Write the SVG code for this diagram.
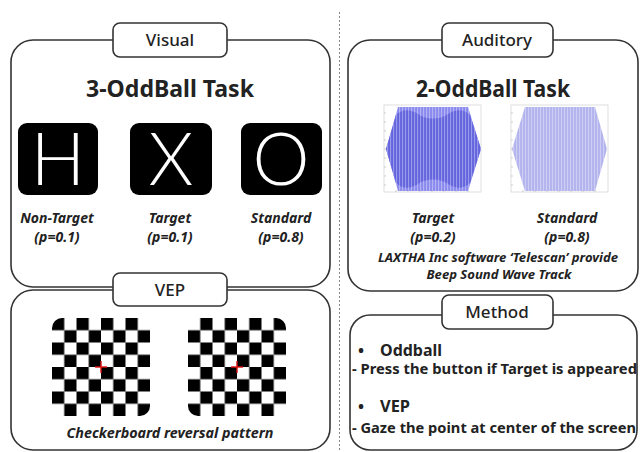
<svg xmlns="http://www.w3.org/2000/svg" width="640" height="452" viewBox="0 0 640 452">
<style>
.box{fill:#fff;stroke:#333;stroke-width:1.6}
.lbl{fill:#fff;stroke:#333;stroke-width:1.6}
.lt{font-family:"Noto Sans","Open Sans","Liberation Sans",sans-serif;font-size:17px;font-weight:500;fill:#222;text-anchor:middle}
.ttl{font-family:"Noto Sans","Open Sans","Liberation Sans",sans-serif;font-size:24px;font-weight:bold;fill:#222;text-anchor:middle}
.big{font-family:Lato,"Noto Sans","Liberation Sans",sans-serif;font-size:72px;font-weight:300;fill:#fff;text-anchor:middle}
.it{font-family:"Noto Sans","Liberation Sans",sans-serif;font-size:14px;font-weight:bold;font-style:italic;fill:#222;text-anchor:middle}
.sm{font-family:"Noto Sans","Liberation Sans",sans-serif;font-size:13px;font-weight:bold;font-style:italic;fill:#222;text-anchor:middle}
.mt{font-family:"Noto Sans","Open Sans","Liberation Sans",sans-serif;font-size:14px;font-weight:bold;fill:#222}
.mh{font-family:"Noto Sans","Open Sans","Liberation Sans",sans-serif;font-size:16px;font-weight:bold;fill:#222}
.frame{fill:#fff;stroke:#d6d6d6;stroke-width:0.8}
.tick{stroke:#bbb;stroke-width:0.7}
.cross{stroke:#e01010;stroke-width:1.4}
</style>
<defs>
<pattern id="chk" width="24.5" height="24.5" patternUnits="userSpaceOnUse">
<rect x="0" y="0" width="12.25" height="12.25" fill="#000"/>
<rect x="12.25" y="12.25" width="12.25" height="12.25" fill="#000"/>
</pattern>
<pattern id="chkInv" width="24.5" height="24.5" patternUnits="userSpaceOnUse">
<rect x="12.25" y="0" width="12.25" height="12.25" fill="#000"/>
<rect x="0" y="12.25" width="12.25" height="12.25" fill="#000"/>
</pattern>
<pattern id="stripes" width="3" height="10" patternUnits="userSpaceOnUse">
<rect x="0" y="0" width="1.1" height="10" fill="#fff" fill-opacity="0.35"/>
</pattern>
<clipPath id="hexT"><path d="M386,149 L398,107 L468,107 L481,149 L468,191 L398,191 Z"/></clipPath>
<clipPath id="hexS"><path d="M512,149 L525,107 L595,107 L607,149 L595,191 L525,191 Z"/></clipPath>
</defs>

<rect width="640" height="452" fill="#fff"/>

<g id="divider">
<line x1="339.5" y1="12" x2="339.5" y2="452" stroke="#888" stroke-width="1" stroke-dasharray="2,2"/>
</g>

<g id="visual">
<rect class="box" x="11" y="40" width="319" height="247" rx="22"/>
<rect class="lbl" x="113" y="23" width="114" height="34" rx="7"/>
<text class="lt" x="170" y="46">Visual</text>
<text class="ttl" x="170" y="97" textLength="168" lengthAdjust="spacingAndGlyphs">3-OddBall Task</text>
<rect x="18" y="123" width="80" height="72" rx="9" fill="#000"/>
<rect x="130" y="123" width="82" height="72" rx="9" fill="#000"/>
<rect x="241" y="123" width="81" height="72" rx="9" fill="#000"/>
<text class="big" x="58" y="185">H</text>
<text class="big" x="171" y="185">X</text>
<text class="big" x="281" y="185">O</text>
<text class="it" x="57" y="223">Non-Target</text>
<text class="it" x="57" y="242">(p=0.1)</text>
<text class="it" x="170" y="223">Target</text>
<text class="it" x="170" y="242">(p=0.1)</text>
<text class="it" x="281" y="223">Standard</text>
<text class="it" x="281" y="242">(p=0.8)</text>
</g>

<g id="vep">
<rect class="box" x="11" y="290" width="319" height="160" rx="22"/>
<rect class="lbl" x="113" y="273" width="114" height="33" rx="7"/>
<text class="lt" x="170" y="296">VEP</text>
<g transform="translate(52,318)">
<rect x="0" y="0" width="98" height="98" rx="10" fill="url(#chk)"/>
<line class="cross" x1="43" y1="49" x2="55" y2="49"/>
<line class="cross" x1="49" y1="43" x2="49" y2="55"/>
</g>
<g transform="translate(188,318)">
<rect x="0" y="0" width="98" height="98" rx="10" fill="url(#chkInv)"/>
<line class="cross" x1="43" y1="49" x2="55" y2="49"/>
<line class="cross" x1="49" y1="43" x2="49" y2="55"/>
</g>
<text class="it" x="170" y="438" textLength="207" lengthAdjust="spacingAndGlyphs">Checkerboard reversal pattern</text>
</g>

<g id="auditory">
<rect class="box" x="348" y="40" width="290" height="251" rx="22"/>
<rect class="lbl" x="442" y="23" width="111" height="34" rx="7"/>
<text class="lt" x="497" y="46">Auditory</text>
<text class="ttl" x="493" y="97" textLength="154" lengthAdjust="spacingAndGlyphs">2-OddBall Task</text>
<rect class="frame" x="384" y="105" width="97" height="87"/>
<path class="tick" d="M384,113h2M384,122h2M384,131h2M384,140h2M384,149h2M384,158h2M384,167h2M384,176h2M384,185h2M396,192v-2M408,192v-2M420,192v-2M432,192v-2M444,192v-2M456,192v-2M468,192v-2"/>
<path d="M386,149 L398,107 L468,107 L481,149 L468,191 L398,191 Z" fill="#8a8aee"/>
<path d="M386,149 L396,115 C402,109 410,109 418,114 C426,120 440,120 448,114 C456,109 464,109 470,115 L481,149 L470,183 C464,189 456,189 448,184 C440,178 426,178 418,184 C410,189 402,189 396,183 Z" fill="#6464de"/>
<rect x="384" y="105" width="98" height="88" fill="url(#stripes)" clip-path="url(#hexT)"/>
<rect class="frame" x="511" y="105" width="97" height="87"/>
<path class="tick" d="M511,113h2M511,122h2M511,131h2M511,140h2M511,149h2M511,158h2M511,167h2M511,176h2M511,185h2M523,192v-2M535,192v-2M547,192v-2M559,192v-2M571,192v-2M583,192v-2M595,192v-2"/>
<path d="M512,149 L525,107 L595,107 L607,149 L595,191 L525,191 Z" fill="#b3b3ee"/>
<rect x="510" y="105" width="98" height="88" fill="url(#stripes)" clip-path="url(#hexS)"/>
<text class="it" x="433" y="223">Target</text>
<text class="it" x="433" y="242">(p=0.2)</text>
<text class="it" x="567" y="223">Standard</text>
<text class="it" x="567" y="242">(p=0.8)</text>
<text class="sm" x="498" y="262" textLength="240" lengthAdjust="spacingAndGlyphs">LAXTHA Inc software ‘Telescan’ provide</text>
<text class="sm" x="499" y="279" textLength="145" lengthAdjust="spacingAndGlyphs">Beep Sound Wave Track</text>
</g>

<g id="method">
<rect class="box" x="350" y="315" width="287" height="135" rx="20"/>
<rect class="lbl" x="442" y="295" width="111" height="34" rx="7"/>
<text class="lt" x="497" y="318">Method</text>
<text class="mh" x="358" y="356">•</text>
<text class="mh" x="380" y="356" textLength="62" lengthAdjust="spacingAndGlyphs">Oddball</text>
<text class="mt" x="352" y="374" textLength="285" lengthAdjust="spacingAndGlyphs">- Press the button if Target is appeared</text>
<text class="mh" x="358" y="412">•</text>
<text class="mh" x="380" y="412" textLength="30" lengthAdjust="spacingAndGlyphs">VEP</text>
<text class="mt" x="352" y="433" textLength="284" lengthAdjust="spacingAndGlyphs">- Gaze the point at center of the screen</text>
</g>
</svg>
